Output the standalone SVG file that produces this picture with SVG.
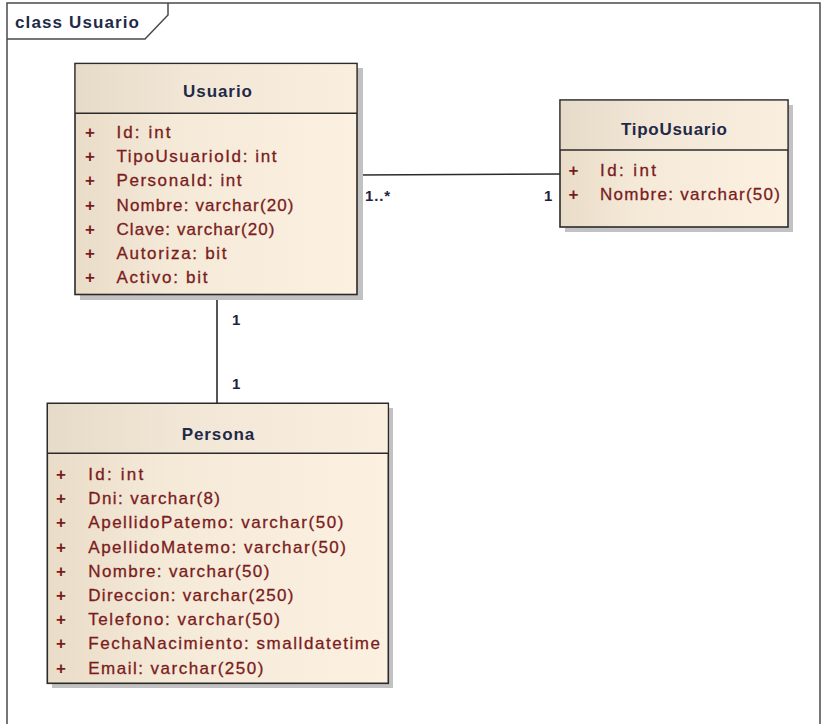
<svg xmlns="http://www.w3.org/2000/svg" width="821" height="724" viewBox="0 0 821 724">
<defs>
<linearGradient id="fillg" x1="0" y1="0" x2="1" y2="0">
<stop offset="0" stop-color="#e9dcc8"/>
<stop offset="0.35" stop-color="#f5e9d8"/>
<stop offset="1" stop-color="#fcf1e1"/>
</linearGradient>
<linearGradient id="headg" x1="0" y1="0" x2="1" y2="0">
<stop offset="0" stop-color="#e6dac8"/>
<stop offset="0.4" stop-color="#f2e7d6"/>
<stop offset="1" stop-color="#faefdf"/>
</linearGradient>
</defs>
<style>
.frame{fill:none;stroke:#4a4a4a;stroke-width:1.5}
.shadow{fill:#c2c2c2}
.box{fill:url(#fillg);stroke:#2b2b2b;stroke-width:1.6}
.head{fill:url(#headg)}
.sep{stroke:#2b2b2b;stroke-width:1.6}
.title{font-family:"Liberation Sans",Arial,sans-serif;font-weight:bold;font-size:17px;fill:#1e2a48;text-anchor:middle}
.attr{font-family:"Liberation Sans",Arial,sans-serif;font-size:17px;fill:#7a1c1c;stroke:#7a1c1c;stroke-width:0.3}
.plus{font-family:"Liberation Sans",Arial,sans-serif;font-size:17px;font-weight:bold;fill:#7a1c1c;text-anchor:middle}
.mult{font-family:"Liberation Sans",Arial,sans-serif;font-weight:bold;font-size:15px;fill:#22223e}
.conn{stroke:#2b2b2b;stroke-width:1.6;fill:none}
.ftitle{font-family:"Liberation Sans",Arial,sans-serif;font-weight:bold;font-size:17px;fill:#1e2a48}
</style>
<rect x="0" y="0" width="821" height="724" fill="#ffffff"/>
<g id="frame">
<path class="frame" d="M7,724 V3 H820 V724"/>
<path class="frame" d="M7,39 H145 L168,15 V3"/>
<text class="ftitle" x="15" y="28" textLength="124" lengthAdjust="spacing">class Usuario</text>
</g>
<g id="connectors">
<line class="conn" x1="357" y1="175" x2="560" y2="174"/>
<line class="conn" x1="217" y1="295" x2="217" y2="403"/>
<text class="mult" x="365" y="201" textLength="25" lengthAdjust="spacing">1..*</text>
<text class="mult" x="544" y="201">1</text>
<text class="mult" x="232" y="325">1</text>
<text class="mult" x="232" y="389">1</text>
</g>
<g id="Usuario">
<rect class="shadow" x="80" y="68" width="283" height="232"/>
<rect class="box" x="75" y="63.5" width="282" height="231"/>
<rect class="head" x="75.8" y="64.3" width="280.4" height="48.7"/>
<line class="sep" x1="75" y1="113.3" x2="357" y2="113.3"/>
<text class="title" x="217.5" y="97" textLength="69" lengthAdjust="spacing">Usuario</text>
<text class="plus" x="90" y="138">+</text>
<text class="plus" x="90" y="162.2">+</text>
<text class="plus" x="90" y="186.4">+</text>
<text class="plus" x="90" y="210.6">+</text>
<text class="plus" x="90" y="234.8">+</text>
<text class="plus" x="90" y="259">+</text>
<text class="plus" x="90" y="283.2">+</text>
<text class="attr" x="116.5" y="138" textLength="54" lengthAdjust="spacing">Id:  int</text>
<text class="attr" x="116.5" y="162.2" textLength="160" lengthAdjust="spacing">TipoUsuarioId:  int</text>
<text class="attr" x="116.5" y="186.4" textLength="125" lengthAdjust="spacing">PersonaId:  int</text>
<text class="attr" x="116.5" y="210.6" textLength="177" lengthAdjust="spacing">Nombre:  varchar(20)</text>
<text class="attr" x="116.5" y="234.8" textLength="158" lengthAdjust="spacing">Clave:  varchar(20)</text>
<text class="attr" x="116.5" y="259" textLength="110" lengthAdjust="spacing">Autoriza:  bit</text>
<text class="attr" x="116.5" y="283.2" textLength="91" lengthAdjust="spacing">Activo:  bit</text>
</g>
<g id="TipoUsuario">
<rect class="shadow" x="565" y="105" width="228" height="127"/>
<rect class="box" x="560" y="100" width="228" height="127"/>
<rect class="head" x="560.8" y="100.8" width="226.4" height="49.2"/>
<line class="sep" x1="560" y1="150" x2="788" y2="150"/>
<text class="title" x="674" y="135" textLength="106" lengthAdjust="spacing">TipoUsuario</text>
<text class="plus" x="573.5" y="176">+</text>
<text class="plus" x="573.5" y="199.5">+</text>
<text class="attr" x="600" y="176" textLength="56" lengthAdjust="spacing">Id:  int</text>
<text class="attr" x="600" y="199.5" textLength="180" lengthAdjust="spacing">Nombre:  varchar(50)</text>
</g>
<g id="Persona">
<rect class="shadow" x="52" y="408" width="341" height="280"/>
<rect class="box" x="47.3" y="403.3" width="341" height="280"/>
<rect class="head" x="48.1" y="404.1" width="339.4" height="49.2"/>
<line class="sep" x1="47.3" y1="453.3" x2="388.3" y2="453.3"/>
<text class="title" x="218" y="439.5" textLength="72.6" lengthAdjust="spacing">Persona</text>
<text class="plus" x="61" y="480">+</text>
<text class="plus" x="61" y="504.2">+</text>
<text class="plus" x="61" y="528.4">+</text>
<text class="plus" x="61" y="552.6">+</text>
<text class="plus" x="61" y="576.8">+</text>
<text class="plus" x="61" y="601">+</text>
<text class="plus" x="61" y="625.2">+</text>
<text class="plus" x="61" y="649.4">+</text>
<text class="plus" x="61" y="673.6">+</text>
<text class="attr" x="88.3" y="480" textLength="55" lengthAdjust="spacing">Id:  int</text>
<text class="attr" x="88.3" y="504.2" textLength="131.7" lengthAdjust="spacing">Dni:  varchar(8)</text>
<text class="attr" x="88.3" y="528.4" textLength="255" lengthAdjust="spacing">ApellidoPatemo:  varchar(50)</text>
<text class="attr" x="88.3" y="552.6" textLength="257.7" lengthAdjust="spacing">ApellidoMatemo:  varchar(50)</text>
<text class="attr" x="88.3" y="576.8" textLength="181" lengthAdjust="spacing">Nombre:  varchar(50)</text>
<text class="attr" x="88.3" y="601" textLength="205" lengthAdjust="spacing">Direccion:  varchar(250)</text>
<text class="attr" x="88.3" y="625.2" textLength="191.7" lengthAdjust="spacing">Telefono:  varchar(50)</text>
<text class="attr" x="88.3" y="649.4" textLength="291.7" lengthAdjust="spacing">FechaNacimiento:  smalldatetime</text>
<text class="attr" x="88.3" y="673.6" textLength="175" lengthAdjust="spacing">Email:  varchar(250)</text>
</g>
</svg>
